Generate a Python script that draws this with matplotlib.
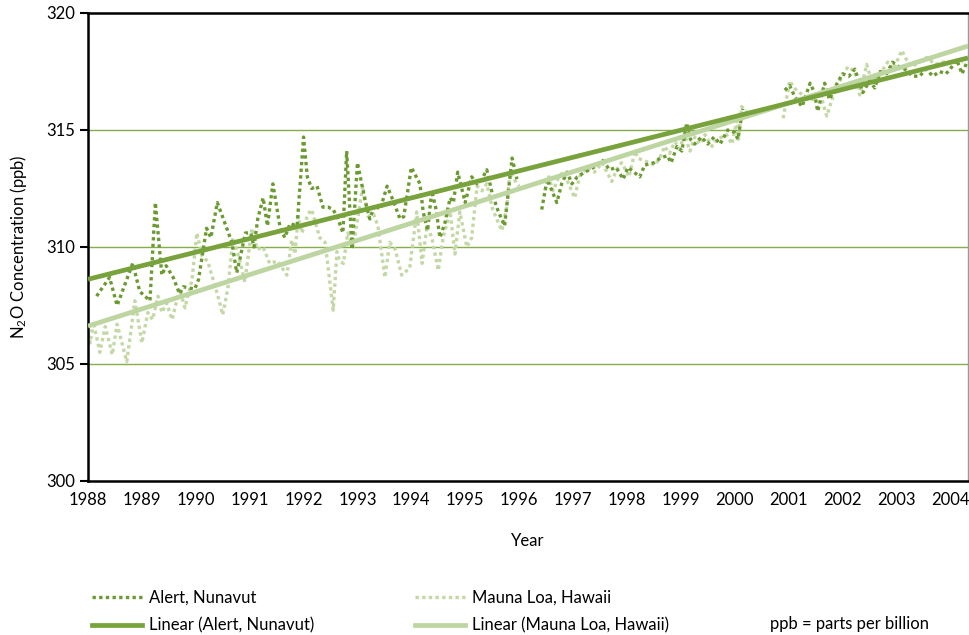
import numpy as np
import matplotlib
matplotlib.use("Agg")
import matplotlib.pyplot as plt
from matplotlib.lines import Line2D

plt.rcParams['font.family'] = ['Lato', 'DejaVu Sans']
plt.rcParams['mathtext.fontset'] = 'custom'
plt.rcParams['mathtext.rm'] = 'Lato'
plt.rcParams['mathtext.default'] = 'regular'

nan = np.nan

# Alert, Nunavut (year, ppb) - NaN marks gaps in the record
alert_year = [1988.16, 1988.40, 1988.54, 1988.83, 1988.96, 1989.15, 1989.25, 1989.37, 1989.45, 1989.58,
              1989.70, 1989.77, 1989.98, 1990.05, 1990.20, 1990.28, 1990.40, 1990.48, 1990.67, 1990.76,
              1990.82, 1990.92, 1991.02, 1991.08, 1991.15, 1991.25, 1991.33, 1991.43, 1991.56, 1991.65,
              1991.75, 1991.88, 1992.00, 1992.07, 1992.15, 1992.25, 1992.36, 1992.46, 1992.55, 1992.64,
              1992.73, 1992.80, 1992.90, 1993.00, 1993.14, 1993.23, 1993.32, 1993.42, 1993.55, 1993.66,
              1993.79, 1993.86, 1994.00, 1994.16, 1994.22, 1994.30, 1994.38, 1994.46, 1994.53, 1994.62,
              1994.72, 1994.78, 1994.86, 1995.00, 1995.12, 1995.22, 1995.31, 1995.40, 1995.50, 1995.60,
              1995.73, 1995.87, 1995.96, 1996.20, 1996.42, 1996.52, 1996.61, 1996.70, 1996.79, 1996.89,
              1996.98, 1997.08, 1997.22, 1997.38, 1997.55, 1997.68, 1997.80, 1997.93, 1998.02, 1998.24,
              1998.33, 1998.50, 1998.62, 1998.75, 1998.82, 1998.93, 1999.02, 1999.11, 1999.18, 1999.26,
              1999.38, 1999.50, 1999.62, 1999.73, 1999.87, 2000.00, 2000.06, 2000.15, 2000.50, 2000.93,
              2001.02, 2001.12, 2001.25, 2001.40, 2001.48, 2001.54, 2001.67, 2001.76, 2001.88, 2002.00,
              2002.12, 2002.23, 2002.38, 2002.50, 2002.60, 2002.70, 2002.82, 2002.93, 2003.05, 2003.16,
              2003.30, 2003.43, 2003.55, 2003.68, 2003.80, 2003.92, 2004.00, 2004.12, 2004.22, 2004.31]
alert_ppb = [307.9, 308.7, 307.5, 309.3, 308.1, 307.7, 311.9, 308.8, 309.2, 308.7,
             308.0, 308.3, 308.2, 308.6, 310.8, 310.4, 311.9, 311.4, 310.2, 308.9,
             309.5, 310.6, 310.6, 310.0, 311.2, 312.1, 310.9, 312.7, 310.9, 310.4,
             311.0, 310.9, 314.7, 313.0, 312.5, 312.6, 311.7, 311.7, 311.6, 311.2,
             310.6, 314.1, 309.9, 313.6, 312.0, 311.2, 311.8, 311.6, 312.6, 312.0,
             311.2, 311.3, 313.4, 312.7, 311.5, 310.7, 312.4, 311.6, 310.4, 311.0,
             312.1, 311.9, 313.2, 311.9, 313.0, 312.7, 312.9, 313.3, 312.3, 311.6,
             310.9, 313.8, 312.9, nan, 311.6, 312.9, 312.4, 311.9, 312.7, 313.2,
             312.7, 313.0, 313.2, 313.4, 313.7, 313.3, 313.4, 312.9, 313.4, 313.0,
             313.5, 313.6, 313.8, 313.9, 313.6, 314.3, 314.1, 315.3, 314.6, 314.4,
             314.7, 314.4, 314.7, 314.4, 315.0, 314.9, 314.6, 315.9, nan, 316.7,
             316.9, 316.4, 316.0, 317.0, 316.6, 315.8, 317.0, 316.3, 316.9, 317.4,
             317.3, 317.6, 316.6, 317.1, 316.8, 317.5, 317.4, 317.9, 317.7, 317.6,
             317.3, 317.3, 317.6, 317.3, 317.5, 317.4, 317.6, 318.0, 317.4, 317.9]

# Mauna Loa, Hawaii (year, ppb)
ml_year = [1988.00, 1988.04, 1988.10, 1988.22, 1988.32, 1988.45, 1988.54, 1988.72, 1988.87, 1989.00,
           1989.11, 1989.20, 1989.30, 1989.37, 1989.46, 1989.56, 1989.70, 1989.80, 1989.93, 1990.02,
           1990.12, 1990.22, 1990.40, 1990.50, 1990.60, 1990.69, 1990.82, 1990.91, 1991.04, 1991.14,
           1991.25, 1991.37, 1991.52, 1991.69, 1991.78, 1991.84, 1991.90, 1991.97, 1992.08, 1992.15,
           1992.30, 1992.40, 1992.55, 1992.62, 1992.67, 1992.74, 1992.82, 1992.92, 1993.10, 1993.20,
           1993.30, 1993.38, 1993.51, 1993.60, 1993.70, 1993.82, 1993.97, 1994.10, 1994.20, 1994.29,
           1994.38, 1994.50, 1994.59, 1994.72, 1994.81, 1994.90, 1995.03, 1995.12, 1995.22, 1995.31,
           1995.40, 1995.51, 1995.68, 1995.77, 1995.83, 1995.96, 1996.00, 1996.25, 1996.48, 1996.55,
           1996.63, 1996.72, 1996.81, 1996.92, 1997.03, 1997.12, 1997.26, 1997.40, 1997.54, 1997.72,
           1997.81, 1997.90, 1998.00, 1998.04, 1998.10, 1998.15, 1998.20, 1998.52, 1998.61, 1998.70,
           1998.79, 1998.89, 1998.98, 1999.07, 1999.17, 1999.26, 1999.35, 1999.45, 1999.58, 1999.67,
           1999.76, 1999.85, 1999.95, 2000.04, 2000.07, 2000.13, 2000.22, 2000.50, 2000.90, 2001.02,
           2001.10, 2001.20, 2001.33, 2001.45, 2001.58, 2001.71, 2001.82, 2001.95, 2002.10, 2002.23,
           2002.32, 2002.45, 2002.54, 2002.70, 2002.84, 2002.95, 2003.10, 2003.19, 2003.29, 2003.42,
           2003.57, 2003.72, 2003.86, 2004.03, 2004.23]
ml_ppb = [306.3, 305.9, 306.8, 305.5, 306.6, 305.4, 306.7, 305.1, 307.7, 305.9,
          307.2, 306.9, 307.9, 307.2, 307.6, 306.9, 308.2, 307.4, 308.6, 310.6,
          309.6, 309.4, 308.0, 307.1, 308.3, 310.4, 309.4, 308.5, 310.8, 309.9,
          310.0, 309.3, 309.4, 308.8, 310.3, 309.7, 311.3, 310.6, 311.4, 311.6,
          310.4, 310.2, 307.3, 309.8, 309.4, 309.3, 310.6, 310.0, 312.6, 311.3,
          311.4, 310.9, 308.7, 310.2, 309.9, 308.8, 309.1, 311.5, 309.3, 310.9,
          310.4, 309.0, 310.4, 311.5, 309.7, 311.5, 310.0, 310.4, 312.6, 312.4,
          312.7, 311.6, 310.7, 311.7, 313.2, 312.7, 312.6, nan, 312.4, 313.0,
          312.4, 312.9, 313.2, 312.7, 312.1, 313.0, 313.4, 313.2, 313.6, 312.8,
          313.3, 313.6, 313.2, 313.0, 313.6, 314.1, 313.8, 313.5, 313.8, 314.3,
          314.0, 314.5, 314.2, 314.8, 314.1, 314.7, 314.4, 314.8, 314.3, 314.6,
          314.7, 314.8, 314.4, 315.4, 314.6, 316.0, 315.8, nan, 315.5, 317.1,
          316.8, 316.6, 316.4, 316.3, 316.6, 315.6, 316.4, 317.1, 317.7, 317.5,
          316.5, 317.8, 317.1, 317.4, 317.9, 317.6, 318.4, 318.0, 317.7, 317.9,
          318.1, 317.8, 317.9, 317.9, 317.9]

# Linear trend lines (start / end of record)
trend_year = [1988.0, 2004.33]
alert_trend = [308.62, 318.08]
ml_trend = [306.62, 318.59]

year_ticks = list(range(1988, 2005))
ppb_ticks = [300, 305, 310, 315, 320]

c_alert = '#6b9a30'
c_alert_lin = '#77a23c'
c_ml = '#c3d8a5'
c_ml_lin = '#bdd5a0'
c_grid = '#86ad4a'
FS = 12

fig = plt.figure(figsize=(9.7, 6.35), dpi=100)
ax = fig.add_axes([88/970, 1-481/635, 880/970, 468/635])

for v in ppb_ticks[1:-1]:
    ax.axhline(v, color=c_grid, lw=1.0, zorder=1)

ax.plot(ml_year, ml_ppb, color=c_ml, lw=2.4, linestyle=(0, (1, 1)), zorder=2)
ax.plot(alert_year, alert_ppb, color=c_alert, lw=2.4, linestyle=(0, (1, 1)), zorder=3)
ax.plot(trend_year, ml_trend, color=c_ml_lin, lw=3.4, solid_capstyle='butt', zorder=4)
ax.plot(trend_year, alert_trend, color=c_alert_lin, lw=3.4, solid_capstyle='butt', zorder=5)

ax.set_xlim(1988, 2004.33)
ax.set_ylim(300, 320)
ax.set_xticks(year_ticks)
ax.set_yticks(ppb_ticks)
ax.tick_params(axis='both', labelsize=FS, length=6, width=1.5, color='black', direction='out')
ax.tick_params(axis='x', length=0, pad=8)
for s in ['left', 'bottom', 'top']:
    ax.spines[s].set_linewidth(1.8)
    ax.spines[s].set_color('black')
ax.spines['right'].set_color('#999999')
ax.spines['right'].set_linewidth(1.0)

ax.set_xlabel('Year', fontsize=FS, labelpad=18)
ax.set_ylabel('N$_2$O Concentration (ppb)', fontsize=FS, labelpad=12)

handles1 = [Line2D([], [], color=c_alert, lw=2.4, linestyle=(0, (1, 1))),
            Line2D([], [], color=c_alert_lin, lw=3.4)]
labels1 = ['Alert, Nunavut', 'Linear (Alert, Nunavut)']
handles2 = [Line2D([], [], color=c_ml, lw=2.4, linestyle=(0, (1, 1))),
            Line2D([], [], color=c_ml_lin, lw=3.4)]
labels2 = ['Mauna Loa, Hawaii', 'Linear (Mauna Loa, Hawaii)']
common = dict(loc='upper left', frameon=False, fontsize=FS, handlelength=3.0,
              handletextpad=0.4, labelspacing=0.7, borderpad=0, borderaxespad=0)
fig.legend(handles1, labels1, bbox_to_anchor=(92/970, 1-590/635), **common)
fig.legend(handles2, labels2, bbox_to_anchor=(415/970, 1-590/635), **common)
fig.text(770/970, 1-624/635, 'ppb = parts per billion', fontsize=FS, va='center', ha='left')

fig.savefig('out.png', dpi=100)
